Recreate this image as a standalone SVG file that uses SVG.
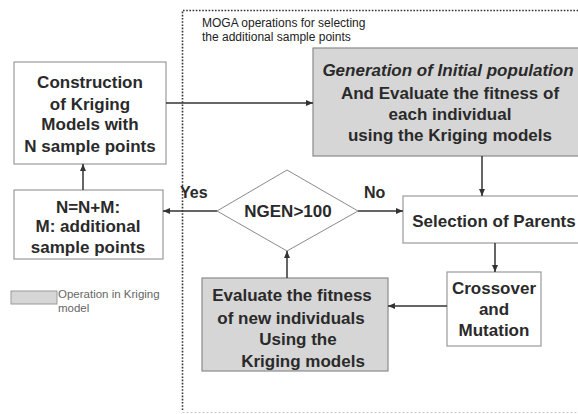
<svg xmlns="http://www.w3.org/2000/svg" width="578" height="414" viewBox="0 0 578 414">
<style>
.box{fill:#fff;stroke:#9a9a9a;stroke-width:1.2}
.gbox{fill:#d6d6d6;stroke:#8a8a8a;stroke-width:1.2}
.t{font-family:"Liberation Sans",Arial,sans-serif;font-weight:bold;font-size:17px;fill:#2a2a2a;text-anchor:middle}
.lbl{font-family:"Liberation Sans",Arial,sans-serif;font-weight:bold;font-size:16px;fill:#2a2a2a}
.small{font-family:"Liberation Sans",Arial,sans-serif;font-size:12px;fill:#222}
.leg{font-family:"Liberation Sans",Arial,sans-serif;font-size:11.5px;fill:#666}
.c{fill:none;stroke:#333;stroke-width:1.5;marker-end:url(#ah)}
</style>
<defs>
<marker id="ah" markerWidth="7" markerHeight="6" refX="7" refY="3" orient="auto" markerUnits="userSpaceOnUse">
<path d="M0,0 L7,3 L0,6 Z" fill="#333"/>
</marker>
</defs>
<rect width="578" height="414" fill="#fff"/>
<g id="boundary">
<path d="M182.5,410 V10.5 H578" fill="none" stroke="#333" stroke-width="1.6" stroke-dasharray="1.6 1.6"/>
<path d="M182.5,412.5 H578" fill="none" stroke="#ccc" stroke-width="1" stroke-dasharray="2 2"/>
<text class="small" x="202" y="27">MOGA operations for selecting</text>
<text class="small" x="202" y="41">the additional sample points</text>
</g>
<g id="construction">
<rect class="box" x="14" y="62" width="152" height="102"/>
<text class="t" x="90" y="88">Construction</text>
<text class="t" x="90" y="110">of Kriging</text>
<text class="t" x="90" y="130">Models with</text>
<text class="t" x="90" y="152">N sample points</text>
</g>
<g id="initial">
<rect class="gbox" x="313" y="48" width="275" height="108"/>
<text class="t" x="448" y="76" font-style="italic">Generation of Initial population</text>
<text class="t" x="450" y="99">And Evaluate the fitness of</text>
<text class="t" x="450" y="120">each individual</text>
<text class="t" x="450" y="141">using the Kriging models</text>
</g>
<g id="nupdate">
<rect class="box" x="14" y="190" width="149" height="69"/>
<text class="t" x="88" y="213">N=N+M:</text>
<text class="t" x="88" y="232">M: additional</text>
<text class="t" x="88" y="253">sample points</text>
</g>
<g id="decision">
<polygon points="287,170 358,211 287,251 217,211" fill="#fff" stroke="#8a8a8a" stroke-width="1"/>
<text class="t" x="288" y="217">NGEN&gt;100</text>
</g>
<g id="selection">
<rect class="box" x="403" y="196" width="185" height="47"/>
<text class="t" x="494" y="227">Selection of Parents</text>
</g>
<g id="crossover">
<rect class="box" x="447" y="272" width="94" height="74"/>
<text class="t" x="494" y="294">Crossover</text>
<text class="t" x="494" y="315">and</text>
<text class="t" x="494" y="336">Mutation</text>
</g>
<g id="evaluate">
<rect class="gbox" x="202" y="278" width="186" height="93"/>
<text class="t" x="292" y="301">Evaluate the fitness</text>
<text class="t" x="291" y="324">of new individuals</text>
<text class="t" x="298" y="345">Using the</text>
<text class="t" x="303" y="367">Kriging models</text>
</g>
<g id="legend">
<rect x="11" y="291" width="46" height="13" fill="#d6d6d6" stroke="#9a9a9a" stroke-width="1"/>
<text class="leg" x="58" y="298">Operation in Kriging</text>
<text class="leg" x="58" y="312">model</text>
</g>
<g id="connectors">
<path class="c" d="M166,103 H313"/>
<path class="c" d="M482,156 V196"/>
<path class="c" d="M358,211 H403"/>
<path class="c" d="M495,243 V272"/>
<path class="c" d="M447,306 H388"/>
<path class="c" d="M287,278 V251"/>
<path class="c" d="M217,211 H163"/>
<path class="c" d="M83,190 V164"/>
<text class="lbl" x="180" y="198">Yes</text>
<text class="lbl" x="364" y="198">No</text>
</g>
</svg>
